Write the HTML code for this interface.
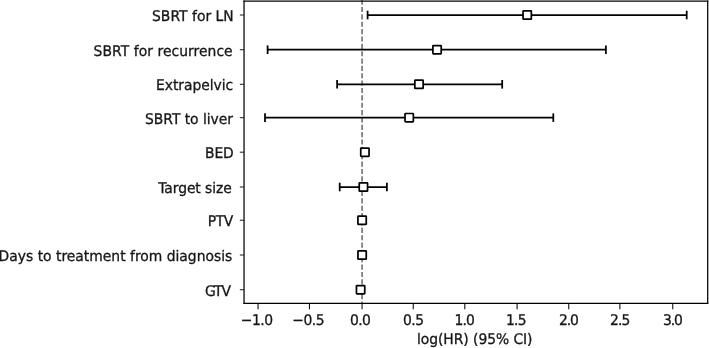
<!DOCTYPE html>
<html><head><meta charset="utf-8"><title>Forest plot</title>
<style>
html,body{margin:0;padding:0;background:#fff;}
svg{display:block;will-change:transform;}
text{font-family:"DejaVu Sans","Liberation Sans",sans-serif;font-size:13.89px;fill:#161616;stroke:#161616;stroke-width:0.3;white-space:pre;text-rendering:geometricPrecision;}
</style></head><body>
<svg width="709" height="348" viewBox="0 0 709 348">
<rect x="0" y="0" width="709" height="348" fill="#ffffff"/>
<line x1="362.05" y1="0" x2="362.05" y2="303.45" stroke="#303030" stroke-width="1.1" stroke-dasharray="5.14 2.22" stroke-dashoffset="0.38"/>
<g stroke="#000" stroke-width="1.75" fill="none"><line x1="367.6" y1="15.00" x2="686.7" y2="15.00"/><line x1="367.6" y1="10.70" x2="367.6" y2="19.30"/><line x1="686.7" y1="10.70" x2="686.7" y2="19.30"/></g>
<rect x="523.05" y="10.85" width="8.3" height="8.3" rx="0.5" fill="#fff" stroke="#000" stroke-width="1.72"/>
<g stroke="#000" stroke-width="1.75" fill="none"><line x1="267.6" y1="49.70" x2="605.9" y2="49.70"/><line x1="267.6" y1="45.40" x2="267.6" y2="54.00"/><line x1="605.9" y1="45.40" x2="605.9" y2="54.00"/></g>
<rect x="432.90" y="45.55" width="8.3" height="8.3" rx="0.5" fill="#fff" stroke="#000" stroke-width="1.72"/>
<g stroke="#000" stroke-width="1.75" fill="none"><line x1="337.1" y1="84.30" x2="502.2" y2="84.30"/><line x1="337.1" y1="80.00" x2="337.1" y2="88.60"/><line x1="502.2" y1="80.00" x2="502.2" y2="88.60"/></g>
<rect x="414.85" y="80.15" width="8.3" height="8.3" rx="0.5" fill="#fff" stroke="#000" stroke-width="1.72"/>
<g stroke="#000" stroke-width="1.75" fill="none"><line x1="265.0" y1="117.65" x2="553.3" y2="117.65"/><line x1="265.0" y1="113.35" x2="265.0" y2="121.95"/><line x1="553.3" y1="113.35" x2="553.3" y2="121.95"/></g>
<rect x="405.05" y="113.50" width="8.3" height="8.3" rx="0.5" fill="#fff" stroke="#000" stroke-width="1.72"/>
<rect x="360.75" y="148.05" width="8.3" height="8.3" rx="0.5" fill="#fff" stroke="#000" stroke-width="1.72"/>
<g stroke="#000" stroke-width="1.75" fill="none"><line x1="339.7" y1="187.00" x2="386.9" y2="187.00"/><line x1="339.7" y1="182.70" x2="339.7" y2="191.30"/><line x1="386.9" y1="182.70" x2="386.9" y2="191.30"/></g>
<rect x="359.25" y="182.85" width="8.3" height="8.3" rx="0.5" fill="#fff" stroke="#000" stroke-width="1.72"/>
<rect x="357.95" y="216.10" width="8.3" height="8.3" rx="0.5" fill="#fff" stroke="#000" stroke-width="1.72"/>
<rect x="357.95" y="250.85" width="8.3" height="8.3" rx="0.5" fill="#fff" stroke="#000" stroke-width="1.72"/>
<rect x="356.45" y="285.55" width="8.3" height="8.3" rx="0.5" fill="#fff" stroke="#000" stroke-width="1.72"/>
<g stroke="#000" stroke-width="1.25" fill="none"><line x1="244.05" y1="0.52" x2="244.05" y2="304.07"/><line x1="707.7" y1="0.52" x2="707.7" y2="304.07"/><line x1="243.43" y1="303.45" x2="708.33" y2="303.45"/></g>
<line x1="243.43" y1="1.15" x2="708.33" y2="1.15" stroke="#000" stroke-width="1.25"/>
<line x1="239.85" y1="15.00" x2="244.05" y2="15.00" stroke="#222" stroke-width="1.05"/><text transform="matrix(1 0 0 1.055 0 -1.155)" x="152.05" y="21.00" letter-spacing="0.018">SBRT for LN</text>
<line x1="239.85" y1="49.70" x2="244.05" y2="49.70" stroke="#222" stroke-width="1.05"/><text transform="matrix(1 0 0 1.055 0 -3.058)" x="93.60" y="55.60" letter-spacing="0.056">SBRT for recurrence</text>
<line x1="239.85" y1="84.30" x2="244.05" y2="84.30" stroke="#222" stroke-width="1.05"/><text transform="matrix(1 0 0 1.055 0 -4.966)" x="156.10" y="90.30" letter-spacing="-0.048">Extrapelvic</text>
<line x1="239.85" y1="117.65" x2="244.05" y2="117.65" stroke="#222" stroke-width="1.05"/><text transform="matrix(1 0 0 1.055 0 -6.798)" x="145.11" y="123.60" letter-spacing="-0.045">SBRT to liver</text>
<line x1="239.85" y1="152.20" x2="244.05" y2="152.20" stroke="#222" stroke-width="1.05"/><text transform="matrix(1 0 0 1.055 0 -8.706)" x="205.09" y="158.30" letter-spacing="-0.135">BED</text>
<line x1="239.85" y1="187.00" x2="244.05" y2="187.00" stroke="#222" stroke-width="1.05"/><text transform="matrix(1 0 0 1.055 0 -10.615)" x="158.24" y="193.00" letter-spacing="-0.070">Target size</text>
<line x1="239.85" y1="220.25" x2="244.05" y2="220.25" stroke="#222" stroke-width="1.05"/><text transform="matrix(1 0 0 1.055 0 -12.446)" x="207.73" y="226.30" letter-spacing="-0.348">PTV</text>
<line x1="239.85" y1="255.00" x2="244.05" y2="255.00" stroke="#222" stroke-width="1.05"/><text transform="matrix(1 0 0 1.055 0 -14.336)" x="-1.40" y="260.65" letter-spacing="0.000">Days to treatment from diagnosis</text>
<line x1="239.85" y1="289.70" x2="244.05" y2="289.70" stroke="#222" stroke-width="1.05"/><text transform="matrix(1 0 0 1.055 0 -16.258)" x="204.89" y="295.60" letter-spacing="-1.049">GTV</text>
<line x1="258.06" y1="303.45" x2="258.06" y2="309.35" stroke="#111" stroke-width="1.1"/><text transform="matrix(1 0 0 1.055 0 -17.869)" x="240.83" y="324.9" letter-spacing="-0.468"><tspan dy="-0.25">−</tspan><tspan dy="0.25">1.0</tspan></text>
<line x1="309.45" y1="303.45" x2="309.45" y2="309.35" stroke="#111" stroke-width="1.1"/><text transform="matrix(1 0 0 1.055 0 -17.869)" x="292.22" y="324.9" letter-spacing="-0.444"><tspan dy="-0.25">−</tspan><tspan dy="0.25">0.5</tspan></text>
<line x1="362.07" y1="303.45" x2="362.07" y2="309.35" stroke="#111" stroke-width="1.1"/><text transform="matrix(1 0 0 1.055 0 -17.869)" x="350.06" y="324.9" letter-spacing="-0.643"><tspan>0.0</tspan></text>
<line x1="413.25" y1="303.45" x2="413.25" y2="309.35" stroke="#111" stroke-width="1.1"/><text transform="matrix(1 0 0 1.055 0 -17.869)" x="403.06" y="324.9" letter-spacing="-0.573"><tspan>0.5</tspan></text>
<line x1="464.80" y1="303.45" x2="464.80" y2="309.35" stroke="#111" stroke-width="1.1"/><text transform="matrix(1 0 0 1.055 0 -17.869)" x="454.42" y="324.9" letter-spacing="-0.825"><tspan>1.0</tspan></text>
<line x1="517.10" y1="303.45" x2="517.10" y2="309.35" stroke="#111" stroke-width="1.1"/><text transform="matrix(1 0 0 1.055 0 -17.869)" x="505.99" y="324.9" letter-spacing="-0.791"><tspan>1.5</tspan></text>
<line x1="568.75" y1="303.45" x2="568.75" y2="309.35" stroke="#111" stroke-width="1.1"/><text transform="matrix(1 0 0 1.055 0 -17.869)" x="558.95" y="324.9" letter-spacing="-1.089"><tspan>2.0</tspan></text>
<line x1="619.86" y1="303.45" x2="619.86" y2="309.35" stroke="#111" stroke-width="1.1"/><text transform="matrix(1 0 0 1.055 0 -17.869)" x="610.07" y="324.9" letter-spacing="-0.886"><tspan>2.5</tspan></text>
<line x1="672.75" y1="303.45" x2="672.75" y2="309.35" stroke="#111" stroke-width="1.1"/><text transform="matrix(1 0 0 1.055 0 -17.869)" x="663.03" y="324.9" letter-spacing="-1.068"><tspan>3.0</tspan></text>
<text transform="matrix(1 0 0 1.055 0 -18.920)" x="417.02" y="344.0" letter-spacing="-0.054">log(HR) (95% CI)</text>
</svg>
</body></html>
